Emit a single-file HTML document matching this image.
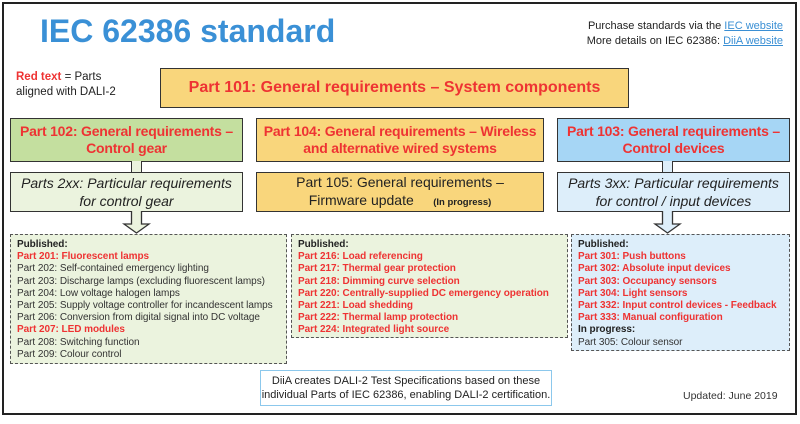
<!DOCTYPE html>
<html><head><meta charset="utf-8"><style>
*{margin:0;padding:0;box-sizing:border-box}
body{width:800px;height:424px;background:#fff;font-family:"Liberation Sans",Arial,sans-serif;position:relative;overflow:hidden}
.a{position:absolute}
.box{position:absolute;border:1.5px solid #333;display:flex;align-items:center;justify-content:center;text-align:center;white-space:nowrap}
.r{color:#ee3333}
.hd{font-weight:bold;font-size:14px;line-height:17px;letter-spacing:-0.2px}
.it{font-style:italic;font-size:14px;line-height:18px;color:#222}
.list{position:absolute;border:1.3px dashed #555;font-size:10px;line-height:12.2px;padding:4px 0 0 6px;color:#333;white-space:nowrap;letter-spacing:-0.05px}
.list b{color:#222}
.list .r{font-weight:bold;color:#ee3333}
a{color:#3a8fd4}
</style></head><body>
<div class="a" style="left:2px;top:2px;width:795px;height:413px;border:2px solid #222"></div>
<div class="a" style="left:40px;top:13px;font-size:32px;font-weight:bold;color:#3a90d6;white-space:nowrap">IEC 62386 standard</div>
<div class="a" style="right:17px;top:19px;font-size:11px;line-height:14.5px;text-align:right;color:#222;white-space:nowrap">Purchase standards via the <a style="text-decoration:underline">IEC website</a><br>More details on IEC 62386: <a style="text-decoration:underline">DiiA website</a></div>
<div class="a" style="left:16px;top:70px;font-size:11.5px;line-height:14.5px;color:#222"><span class="r" style="font-weight:bold">Red text</span> = Parts<br>aligned with DALI-2</div>

<div class="box" style="left:160px;top:68px;width:469px;height:40px;background:#f9d67c"><span class="r" style="font-weight:bold;font-size:16px">Part 101: General requirements – System components</span></div>

<div class="box hd r" style="left:10px;top:118px;width:233px;height:44px;background:#c4df9f">Part 102: General requirements –<br>Control gear</div>
<div class="box hd r" style="left:256px;top:118px;width:288px;height:44px;background:#f9d67c">Part 104: General requirements – Wireless<br>and alternative wired systems</div>
<div class="box hd r" style="left:557px;top:118px;width:233px;height:44px;background:#a6d6f5">Part 103: General requirements –<br>Control devices</div>

<div class="a" style="left:131px;top:161px;width:11px;height:12px;border:1.3px solid #333;border-top:none;border-bottom:none;background:#ebf3de"></div>
<div class="a" style="left:662px;top:161px;width:11px;height:12px;border:1.3px solid #333;border-top:none;border-bottom:none;background:#ddeefa"></div>

<div class="box it" style="left:10px;top:172px;width:233px;height:40px;background:#ebf3de">Parts 2xx: Particular requirements<br>for control gear</div>
<div class="box" style="left:256px;top:172px;width:288px;height:40px;background:#f9d67c;font-size:14px;line-height:18px;color:#222"><div>Part 105: General requirements –<br>Firmware update &nbsp;&nbsp;&nbsp;&nbsp;<b style="font-size:9.5px">(In progress)</b></div></div>
<div class="box it" style="left:557px;top:172px;width:233px;height:40px;background:#ddeefa">Parts 3xx: Particular requirements<br>for control / input devices</div>

<svg class="a" style="left:0;top:0" width="800" height="424">
<path d="M131.5 211 V224 H124 L136.5 233 L149 224 H141.5 V211" fill="#ebf3de" stroke="#333" stroke-width="1.3"/>
<path d="M662.5 211 V224 H655 L667.5 233 L680 224 H672.5 V211" fill="#ddeefa" stroke="#333" stroke-width="1.3"/>
</svg>

<div class="list" style="left:10px;top:234px;width:277px;height:130px;background:#ebf3de"><b>Published:</b><br><span class="r">Part 201: Fluorescent lamps</span><br>Part 202: Self-contained emergency lighting<br>Part 203: Discharge lamps (excluding fluorescent lamps)<br>Part 204: Low voltage halogen lamps<br>Part 205: Supply voltage controller for incandescent lamps<br>Part 206: Conversion from digital signal into DC voltage<br><span class="r">Part 207: LED modules</span><br>Part 208: Switching function<br>Part 209: Colour control</div>

<div class="list" style="left:291px;top:234px;width:277px;height:104px;background:#ebf3de"><b>Published:</b><br><span class="r">Part 216: Load referencing<br>Part 217: Thermal gear protection<br>Part 218: Dimming curve selection<br>Part 220: Centrally-supplied DC emergency operation<br>Part 221: Load shedding<br>Part 222: Thermal lamp protection<br>Part 224: Integrated light source</span></div>

<div class="list" style="left:571px;top:234px;width:219px;height:117px;background:#ddeefa"><b>Published:</b><br><span class="r">Part 301: Push buttons<br>Part 302: Absolute input devices<br>Part 303: Occupancy sensors<br>Part 304: Light sensors<br>Part 332: Input control devices - Feedback<br>Part 333: Manual configuration</span><br><b>In progress:</b><br>Part 305: Colour sensor</div>

<div class="box" style="left:260px;top:370px;width:292px;height:36px;border:1.3px solid #8cc8ec;font-size:11px;line-height:14px;color:#222">DiiA creates DALI-2 Test Specifications based on these<br>individual Parts of IEC 62386, enabling DALI-2 certification.</div>
<div class="a" style="left:683px;top:390px;font-size:10.5px;color:#333">Updated: June 2019</div>
</body></html>
